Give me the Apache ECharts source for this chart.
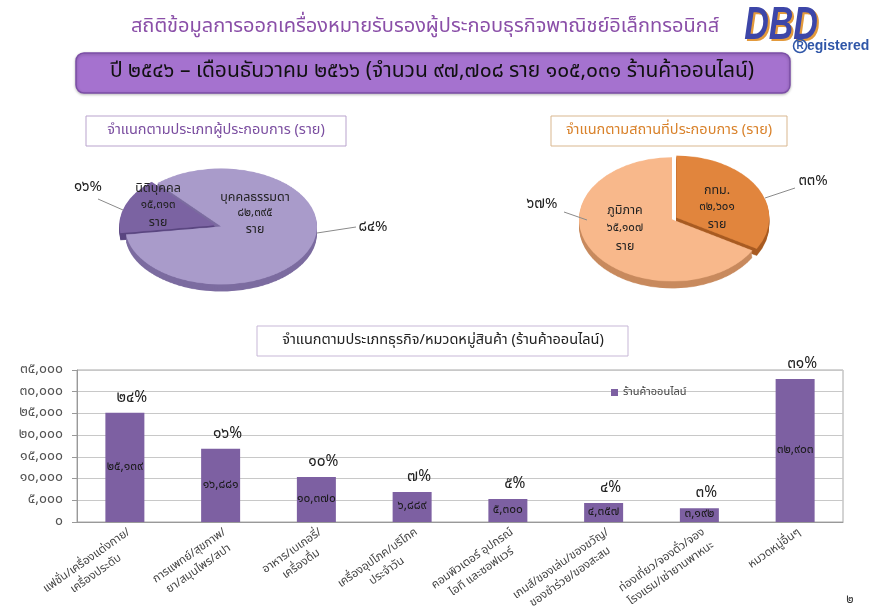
<!DOCTYPE html>
<html>
<head>
<meta charset="utf-8">
<script src="https://cdn.jsdelivr.net/npm/echarts@6/dist/echarts.min.js"></script>
<style>
  html, body { margin: 0; padding: 0; background: #fff; }
  #stage { position: relative; width: 875px; height: 612px; overflow: hidden; background: #fff; }
  .pie { position: absolute; transform-origin: 0 0; z-index: 1; }
  #main { position: absolute; left: 0; top: 0; width: 875px; height: 612px; z-index: 2; }
</style>
</head>
<body>
<div id="stage">
  <div id="pieOwner" class="pie"></div>
  <div id="pieLocation" class="pie"></div>
  <div id="main"></div>
</div>
<script>
// ---- data ----
const pageTitle = 'สถิติข้อมูลการออกเครื่องหมายรับรองผู้ประกอบธุรกิจพาณิชย์อิเล็กทรอนิกส์';
const startYear = '๒๕๔๖';
const endPeriod = 'เดือนธันวาคม ๒๕๖๖';

const ownerTitle = 'จำแนกตามประเภทผู้ประกอบการ (ราย)';
const ownerTypes = ['นิติบุคคล', 'บุคคลธรรมดา'];
const ownerCounts = [15313, 82395];

const locationTitle = 'จำแนกตามสถานที่ประกอบการ (ราย)';
const locations = ['กทม.', 'ภูมิภาค'];
const locationCounts = [32601, 65107];

const barTitle = 'จำแนกตามประเภทธุรกิจ/หมวดหมู่สินค้า (ร้านค้าออนไลน์)';
const seriesName = 'ร้านค้าออนไลน์';
const categories = [
  'แฟชั่น/เครื่องแต่งกาย/\nเครื่องประดับ',
  'การแพทย์/สุขภาพ/\nยา/สมุนไพร/สปา',
  'อาหาร/เบเกอรี่/\nเครื่องดื่ม',
  'เครื่องอุปโภค/บริโภค\nประจำวัน',
  'คอมพิวเตอร์ อุปกรณ์\nไอที และซอฟแวร์',
  'เกมส์/ของเล่น/ของขวัญ/\nของชำร่วย/ของสะสม',
  'ท่องเที่ยว/จองตั๋ว/จอง\nโรงแรม/เช่ายานพาหนะ',
  'หมวดหมู่อื่นๆ'
];
const shopCounts = [25139, 16881, 10370, 6889, 5300, 4357, 3192, 32903];
const pageNumber = '๒';

// ---- helpers ----
const FONT = "'Noto Sans Thai', 'Noto Sans', 'DejaVu Sans', sans-serif";
const TH_DIGITS = '๐๑๒๓๔๕๖๗๘๙';
function thai(n) {
  return String(n).replace(/\B(?=(\d{3})+(?!\d))/g, ',').replace(/\d/g, d => TH_DIGITS[d]);
}
const sum = a => a.reduce((s, v) => s + v, 0);
const pct = (v, total) => thai(Math.round(v / total * 100)) + '%';
const totalOwners = sum(ownerCounts);
const totalShops = sum(shopCounts);

// ---- tilted 3D-look pie: a flat pie squashed vertically, with darker layers beneath for the rim ----
function tiltedPie(id, cfg) {
  const el = document.getElementById(id);
  const k = cfg.ry / cfg.rx;
  const pad = 14;
  const depthU = cfg.depth / k;
  const size = 2 * (cfg.rx + pad);
  el.style.left = (cfg.cx - cfg.rx - pad) + 'px';
  el.style.top = (cfg.cy - (cfg.rx + pad) * k) + 'px';
  el.style.width = size + 'px';
  el.style.height = (size + depthU) + 'px';
  el.style.transform = 'scaleY(' + k + ')';
  const chart = echarts.init(el, null, { renderer: 'canvas' });
  const series = [];
  const steps = 5;
  for (let i = steps; i >= 0; i--) {
    const top = i === 0;
    series.push({
      type: 'pie',
      silent: true,
      center: [cfg.rx + pad, cfg.rx + pad + depthU * i / steps],
      radius: cfg.rx,
      startAngle: cfg.startAngle,
      clockwise: true,
      selectedMode: 'single',
      selectedOffset: cfg.offset,
      label: { show: false },
      labelLine: { show: false },
      emphasis: { disabled: true },
      z: top ? 10 : 1,
      data: cfg.names.map((n, j) => ({
        name: n,
        value: cfg.values[j],
        selected: j === cfg.selectedIndex,
        itemStyle: { color: top ? cfg.colors[j] : cfg.sideColors[j], borderWidth: 0 }
      }))
    });
  }
  chart.setOption({ animation: false, series });
}

tiltedPie('pieOwner', {
  cx: 221, cy: 226, rx: 96, ry: 58, depth: 7,
  names: ownerTypes, values: ownerCounts,
  colors: ['#7b63a2', '#a99bca'], sideColors: ['#5a4680', '#7c6ca0'],
  startAngle: 188, selectedIndex: 0, offset: 6
});
tiltedPie('pieLocation', {
  cx: 672, cy: 219, rx: 93, ry: 62, depth: 7,
  names: locations, values: locationCounts,
  colors: ['#e1853d', '#f8b88b'], sideColors: ['#a85b22', '#c88a5e'],
  startAngle: 90, selectedIndex: 0, offset: 5
});

// ---- graphic pieces: headings, boxes, pie labels ----
const graphics = [];
function txt(x, y, text, size, fill, extra) {
  graphics.push(Object.assign({
    type: 'text', x, y, z: 20,
    style: Object.assign({ text, fill, font: size + 'px ' + FONT, align: 'center', verticalAlign: 'middle' }, extra || {})
  }));
}
function box(x, y, w, h, stroke) {
  graphics.push({ type: 'rect', z: 15, shape: { x, y, width: w, height: h }, style: { fill: '#fff', stroke, lineWidth: 1 } });
}
function line(pts, color) {
  graphics.push({ type: 'polyline', z: 20, shape: { points: pts }, style: { stroke: color || '#8a8a8a', lineWidth: 1, fill: null } });
}

// page heading
txt(425, 28, pageTitle, 20, '#8a4fa8');
// logo
const logoFont = 'italic bold 46px "Liberation Sans", sans-serif';
graphics.push({ type: 'text', x: 783, y: 28, scaleX: 0.74, z: 20,
  style: { text: 'DBD', font: logoFont, fill: '#e39a3c', align: 'center', verticalAlign: 'middle' } });
graphics.push({ type: 'text', x: 781, y: 26, scaleX: 0.74, z: 21,
  style: { text: 'DBD', font: logoFont, fill: '#3d46a8', align: 'center', verticalAlign: 'middle' } });
graphics.push({ type: 'circle', z: 20, shape: { cx: 800, cy: 46, r: 6.5 }, style: { fill: 'none', stroke: '#2f56a8', lineWidth: 1.5 } });
txt(800, 46.5, 'R', 10, '#2f56a8', { font: 'bold 10px "Liberation Sans", sans-serif' });
txt(807, 46, 'egistered', 14, '#2f56a8', { font: 'bold 14px "Liberation Sans", sans-serif', align: 'left' });

// banner
graphics.push({ type: 'rect', z: 15, shape: { x: 76, y: 53, width: 714, height: 40, r: 8 },
  style: { fill: '#a572cf', stroke: '#7b4ea6', lineWidth: 1.5, shadowBlur: 3, shadowColor: 'rgba(0,0,0,0.25)', shadowOffsetY: 1 } });
txt(432, 73, 'ปี ' + startYear + ' – ' + endPeriod + ' (จำนวน ' + thai(totalOwners) + ' ราย ' + thai(totalShops) + ' ร้านค้าออนไลน์)', 21, '#111');

// pie title boxes
box(86, 116, 260, 30, '#b9a3cd');
txt(216, 131, ownerTitle, 14.5, '#7b4ea0');
box(551, 116, 236, 30, '#d9b78f');
txt(669, 131, locationTitle, 14.5, '#d9822b');

// pie labels
function sliceLabel(x, y, name, value, lh) {
  graphics.push({ type: 'text', x, y, z: 20, style: {
    text: '{n|' + name + '}\n{v|' + thai(value) + '}\n{n|ราย}',
    rich: {
      n: { fontSize: 12.5, fontFamily: FONT, fill: '#222', lineHeight: lh, align: 'center' },
      v: { fontSize: 11.5, fontFamily: FONT, fill: '#222', lineHeight: lh, align: 'center' }
    },
    align: 'center', verticalAlign: 'middle'
  } });
}
sliceLabel(158, 206, ownerTypes[0], ownerCounts[0], 17);
sliceLabel(255, 214, ownerTypes[1], ownerCounts[1], 16);
sliceLabel(717, 208, locations[0], locationCounts[0], 17);
sliceLabel(625, 229, locations[1], locationCounts[1], 18);

txt(88, 188, pct(ownerCounts[0], totalOwners), 15, '#222');
line([[98, 199], [123, 210]]);
txt(373, 228, pct(ownerCounts[1], totalOwners), 15, '#222');
line([[317, 233], [356, 227]]);
txt(813, 182, pct(locationCounts[0], sum(locationCounts)), 15, '#222');
line([[765, 198], [795, 188]]);
txt(542, 205, pct(locationCounts[1], sum(locationCounts)), 15, '#222');
line([[564, 212], [587, 220]]);

// bar chart heading box
box(257, 326, 371, 30, '#c7b7d7');
txt(443, 341, barTitle, 14.5, '#222');

// page number
txt(850, 601, pageNumber, 12, '#333');

// ---- main chart ----
const main = echarts.init(document.getElementById('main'), null, { renderer: 'canvas' });
main.setOption({
  animation: false,
  backgroundColor: 'transparent',
  textStyle: { fontFamily: FONT },
  legend: {
    data: [seriesName], left: 606, top: 382, icon: 'rect', itemWidth: 7, itemHeight: 7, itemGap: 4,
    textStyle: { fontSize: 11, color: '#444', fontFamily: FONT }
  },
  grid: {
    left: 77, right: 32, top: 370, bottom: 90, outerBoundsMode: 'none', containLabel: false,
    show: true, borderColor: '#a8a8a8', borderWidth: 1
  },
  xAxis: {
    type: 'category', data: categories,
    axisLine: { lineStyle: { color: '#999' } },
    axisTick: { show: false },
    axisLabel: {
      interval: 0, rotate: 35, margin: 3, verticalAlign: 'top', color: '#444', fontFamily: FONT,
      formatter: v => v.split('\n').map(s => '{c|' + s + '}').join('\n'),
      rich: { c: { fontSize: 11.5, lineHeight: 16, color: '#444', fontFamily: FONT, align: 'center' } }
    }
  },
  yAxis: {
    type: 'value', min: 0, max: 35000, interval: 5000,
    axisLine: { show: true, lineStyle: { color: '#999' } },
    axisTick: { show: true, length: 5, lineStyle: { color: '#999' } },
    splitLine: { lineStyle: { color: '#c8c8c8' } },
    axisLabel: { formatter: v => thai(v), fontSize: 14, color: '#555', margin: 14, fontFamily: FONT }
  },
  series: [
    {
      name: seriesName, type: 'bar', data: shopCounts, barWidth: 39,
      itemStyle: { color: '#7d60a2' },
      label: { show: true, position: 'inside', formatter: p => thai(p.value), fontSize: 12, color: '#1a1a1a', fontFamily: FONT }
    },
    {
      name: 'share', type: 'bar', data: shopCounts, barWidth: 39, barGap: '-100%', silent: true,
      itemStyle: { color: 'transparent' },
      label: { show: true, position: 'top', distance: 6, offset: [7, 0], formatter: p => pct(p.value, totalShops), fontSize: 15.5, color: '#222', fontFamily: FONT }
    }
  ],
  graphic: graphics
});
</script>
</body>
</html>
